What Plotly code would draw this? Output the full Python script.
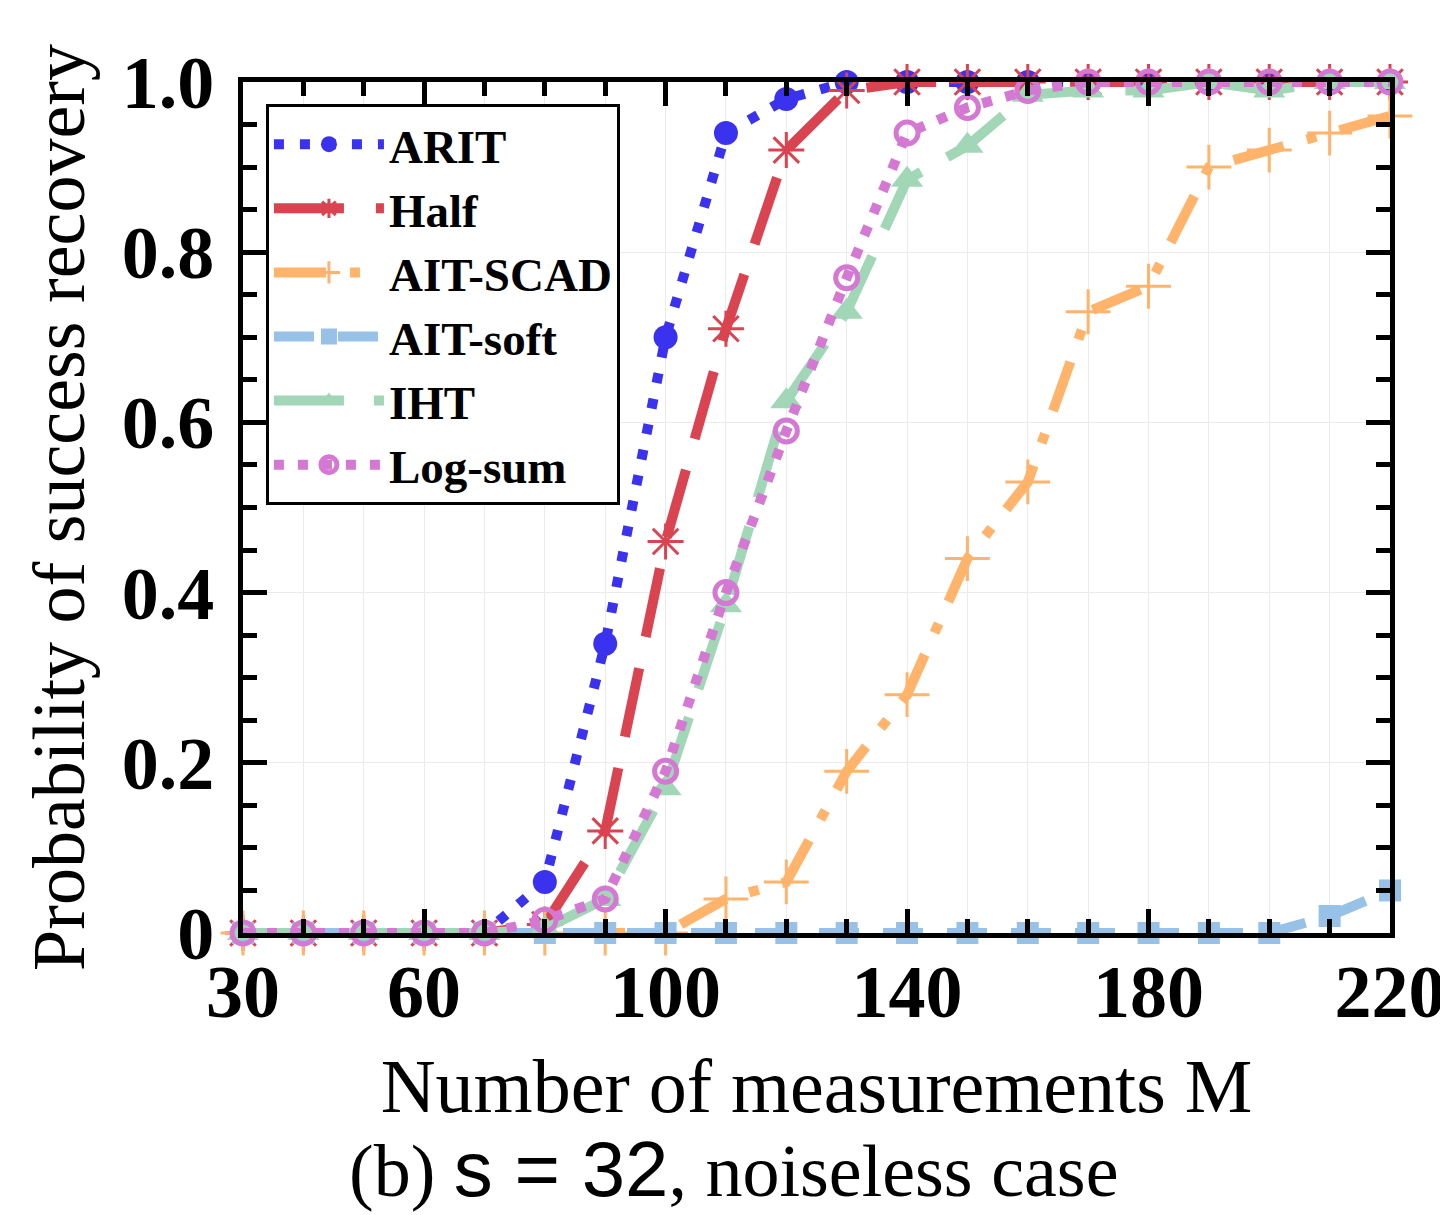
import plotly.graph_objects as go

# number of measurements M
m_values = [30, 40, 50, 60, 70, 80, 90, 100, 110, 120, 130, 140, 150, 160, 170, 180, 190, 200, 210, 220]

arit = [0, 0, 0, 0, 0, 0.06, 0.34, 0.70, 0.94, 0.98, 1.0, 1.0, 1.0, 1.0, 1.0, 1.0, 1.0, 1.0, 1.0, 1.0]
half = [0, 0, 0, 0, 0, 0.01, 0.12, 0.46, 0.71, 0.92, 0.99, 1.0, 1.0, 1.0, 1.0, 1.0, 1.0, 1.0, 1.0, 1.0]
ait_scad = [0, 0, 0, 0, 0, 0, 0, 0, 0.04, 0.06, 0.19, 0.28, 0.44, 0.53, 0.73, 0.76, 0.90, 0.92, 0.94, 0.96]
ait_soft = [0, 0, 0, 0, 0, 0, 0, 0, 0, 0, 0, 0, 0, 0, 0, 0, 0, 0, 0.02, 0.05]
iht = [0, 0, 0, 0, 0, 0.005, 0.04, 0.17, 0.385, 0.625, 0.73, 0.885, 0.925, 0.985, 0.99, 0.99, 1.0, 0.99, 1.0, 1.0]
log_sum = [0, 0, 0, 0, 0, 0.015, 0.04, 0.19, 0.40, 0.59, 0.77, 0.94, 0.97, 0.99, 1.0, 1.0, 1.0, 1.0, 1.0, 1.0]

x_tickvals = [30, 60, 100, 140, 180, 220]
y_tickvals = [0, 0.2, 0.4, 0.6, 0.8, 1.0]
y_ticktext = ['0', '0.2', '0.4', '0.6', '0.8', '1.0']

SERIF = 'Liberation Serif'

series = [
    ('ARIT', arit, '#3A32EE', '10px,16px', dict(symbol='circle', size=24)),
    ('Half', half, '#DA4350', '70px,32px', dict(symbol='asterisk-open', size=30, line=dict(width=3))),
    ('AIT-SCAD', ait_scad, '#FFB36B', '52px,24px,10px,24px', dict(symbol='cross-thin-open', size=32, line=dict(width=3))),
    ('AIT-soft', ait_soft, '#97C1E7', '40px,24px', dict(symbol='square', size=22)),
    ('IHT', iht, '#A1D7B7', '70px,30px', dict(symbol='triangle-up', size=28)),
    ('Log-sum', log_sum, '#D478D4', '10px,14px', dict(symbol='circle-open', size=22, line=dict(width=5))),
]

fig = go.Figure()
for name, vals, color, dash, marker in series:
    marker = dict(marker, color=color)
    if 'line' in marker:
        marker['line'] = dict(marker['line'], color=color)
    fig.add_trace(go.Scatter(
        x=m_values, y=vals, name=name, mode='lines+markers',
        line=dict(color=color, width=10, dash=dash),
        marker=marker, cliponaxis=False,
    ))

axis_common = dict(
    showline=True, linecolor='black', linewidth=5, mirror='allticks',
    ticks='inside', ticklen=24, tickwidth=5, tickcolor='black',
    showgrid=True, gridcolor='#ebebeb', gridwidth=1, zeroline=False,
    tickfont=dict(family=SERIF, size=74, color='black', weight='bold'),
    automargin=False, ticklabeloverflow='allow',
)

fig.update_xaxes(
    axis_common, range=[30, 220], tickmode='array', tickvals=x_tickvals,
    ticktext=[str(v) for v in x_tickvals], ticklabelstandoff=-10,
    minor=dict(dtick=10, tick0=30, ticks='inside', ticklen=14, tickwidth=5,
               tickcolor='black', showgrid=True, gridcolor='#ebebeb'),
    title=dict(text='Number of measurements M', font=dict(family=SERIF, size=76, color='black'), standoff=29),
)
fig.update_yaxes(
    axis_common, range=[0, 1], tickmode='array', tickvals=y_tickvals,
    ticktext=y_ticktext, ticklabelstandoff=9,
    minor=dict(dtick=0.05, tick0=0, ticks='inside', ticklen=14, tickwidth=5,
               tickcolor='black', showgrid=False),
    title=dict(text='Probability of success recovery', font=dict(family=SERIF, size=74, color='black'), standoff=14),
)

fig.add_annotation(
    x=0.428, y=-0.277, xref='paper', yref='paper', showarrow=False,
    text="(b) <span style='font-family:Liberation Sans;font-size:78px'>s = 32</span>, noiseless case",
    font=dict(family=SERIF, size=74, color='black'), xanchor='center', yanchor='middle',
)

fig.update_layout(
    width=1448, height=1215,
    margin=dict(l=235, r=66, t=74, b=290),
    plot_bgcolor='white', paper_bgcolor='white',
    legend=dict(
        x=0.020, y=0.974, xanchor='left', yanchor='top',
        bgcolor='white', bordercolor='black', borderwidth=3,
        font=dict(family=SERIF, size=47, color='black', weight='bold'),
        itemwidth=110,
    ),
)

fig.write_html('out.html')
